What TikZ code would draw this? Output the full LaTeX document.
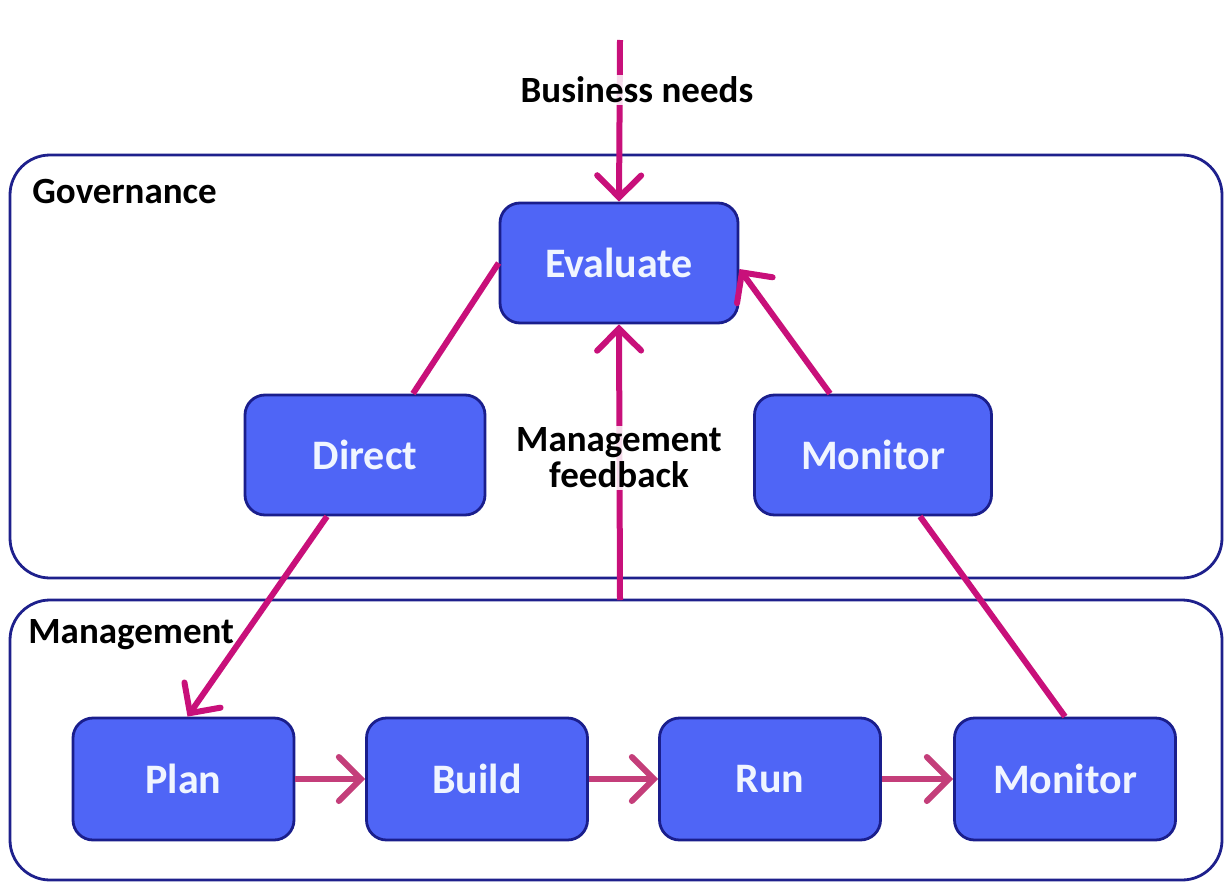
\documentclass[tikz,border=0pt]{standalone}
\usepackage{fontspec}
\setmainfont{Carlito}
\usetikzlibrary{arrows.meta}
\definecolor{boxfill}{RGB}{79,101,246}
\definecolor{boxdraw}{RGB}{26,30,140}
\definecolor{frame}{RGB}{30,32,140}
\definecolor{mag}{RGB}{200,16,122}
\definecolor{magsoft}{RGB}{196,62,122}
\definecolor{boxtext}{RGB}{240,245,255}
\tikzset{
  stepbox/.style={draw=boxdraw, fill=boxfill, line width=1.4pt, rounded corners=10pt,
    inner sep=0pt, text=boxtext, font=\fontsize{21}{24}\selectfont\bfseries,
    minimum width=120pt, minimum height=60pt},
  lowbox/.style={stepbox, minimum width=110.5pt, minimum height=61pt},
  region/.style={draw=frame, line width=1.4pt, rounded corners=20pt},
  conn/.style={draw=mag, line width=3pt},
  arr/.style={conn, -{Straight Barb[length=11pt,width=22pt,line width=3pt,line cap=round]}},
  harr/.style={draw=magsoft, line width=3pt, -{Straight Barb[length=11pt,width=22pt,line width=3pt,line cap=round]}},
  lbl/.style={font=\fontsize{18.5}{21}\selectfont\bfseries, text=black, inner sep=1pt},
  clbl/.style={lbl, fill=white, fill opacity=0.85, text opacity=1, align=center}
}
\begin{document}
\begin{tikzpicture}[x=0.5pt,y=-0.5pt]
\useasboundingbox[fill=white] (0,0) rectangle (1225,883);
% regions
\draw[region] (10,155) rectangle (1222,578);
\draw[region] (10,600) rectangle (1222,880);
\node[lbl, anchor=west] (gov) at (30,192) {Governance};
\node[lbl, anchor=west] (mgt) at (26,635) {Management};
% boxes
\node[stepbox, minimum width=119pt] (Evaluate) at (619,263) {Evaluate};
\node[stepbox] (Direct) at (365,455) {Direct};
\node[stepbox, minimum width=118.5pt] (MonitorG) at (873,455) {Monitor};
\node[lowbox] (Plan) at (183.5,779) {Plan};
\node[lowbox] (Build) at (477,779) {Build};
\node[lowbox] (Run) at (770,779) {Run};
\node[lowbox] (MonitorM) at (1065,779) {Monitor};
% free ends
\coordinate (bizTop) at (620,40);
\coordinate (fbBottom) at (620,600);
% connectors
\draw[arr] (bizTop) -- (Evaluate.north);
\draw[arr] (fbBottom) -- (Evaluate.south);
\draw[conn] (Evaluate.west) -- ([xshift=24pt]Direct.north);
\draw[arr] ([xshift=-19pt]Direct.south) -- ([xshift=2pt]Plan.north);
\draw[arr] ([xshift=-21.5pt]MonitorG.north) -- ([yshift=-3pt]Evaluate.east);
\draw[conn] (MonitorM.north) -- ([xshift=23.5pt]MonitorG.south);
\draw[harr] (Plan.east) -- (Build.west);
\draw[harr] (Build.east) -- (Run.west);
\draw[harr] (Run.east) -- (MonitorM.west);
% labels on lines
\node[clbl] (biz) at (637,90) {Business needs};
\node[clbl] (fb) at (619,458) {Management\\[-3pt]feedback};
\end{tikzpicture}
\end{document}
